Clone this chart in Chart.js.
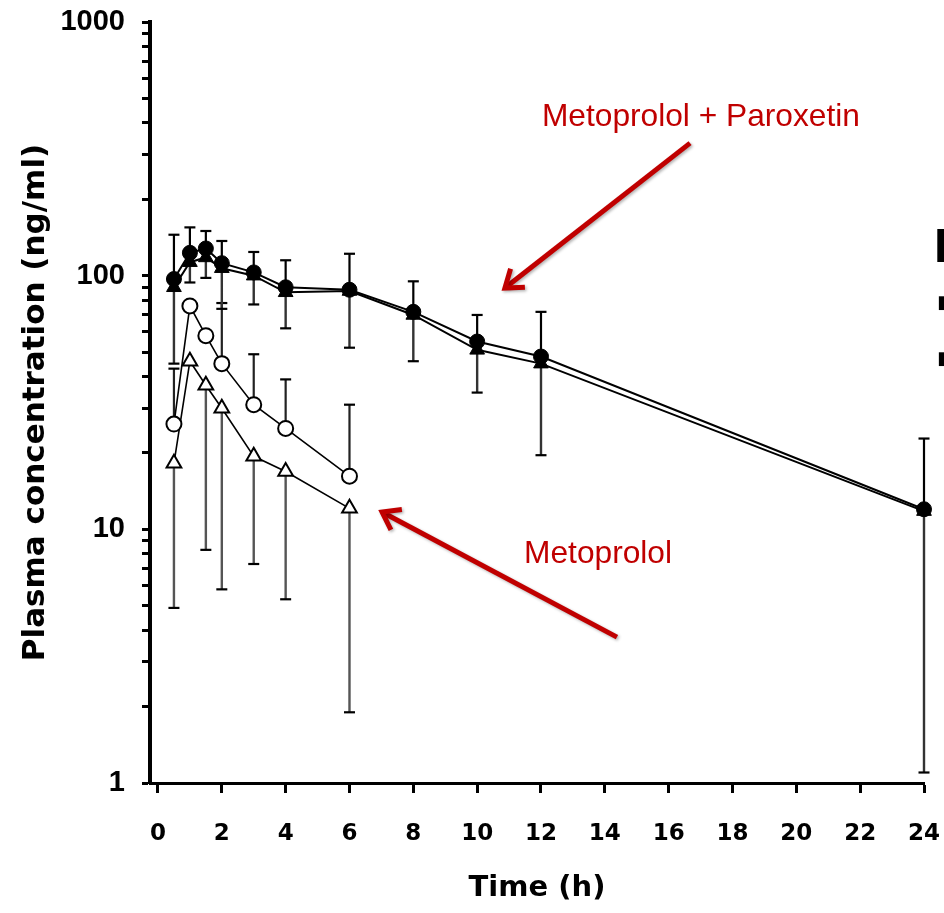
<!DOCTYPE html>
<html><head><meta charset="utf-8">
<script src="https://cdn.jsdelivr.net/npm/chart.js@4.4.1/dist/chart.umd.min.js"></script>
<style>html,body{margin:0;padding:0;background:#fff;}canvas{display:block}</style>
</head><body>
<canvas id="c" width="944" height="913"></canvas>
<script>
// ---- data (ng/ml) ----
const timesFull = [0.5, 1, 1.5, 2, 3, 4, 6, 8, 10, 12, 24];
const timesShort = [0.5, 1, 1.5, 2, 3, 4, 6];
const comboCircle = [97, 123, 128, 112, 103, 90, 88, 72, 55, 48, 12];
const comboTriangle = [90, 113, 118, 107, 100, 86, 87, 70, 51, 45, 11.8];
const aloneCircle = [26, 76, 58, 45, 31, 25, 16.2];
const aloneTriangle = [18.2, 46, 37, 30, 19.4, 16.9, 12.1];
const comboCircleUpper = [145, 155, 150, 137, 124, 115, 122, 95, 70, 72, 22.8];
const comboTriangleLower = [45, 94, 98, 74, 77, 62, 52, 46, 34.6, 19.6, 1.1];
const aloneCircleUpper = [43, null, null, 78, 49, 39, 31];
const aloneTriangleLower = [4.9, null, 8.3, 5.8, 7.3, 5.3, 1.9];
const xTickValues = [0, 2, 4, 6, 8, 10, 12, 14, 16, 18, 20, 22, 24];
const yTickLabels = [1, 10, 100, 1000];
const xTitle = 'Time (h)';
const yTitle = 'Plasma concentration (ng/ml)';
const annoTexts = ['Metoprolol + Paroxetin', 'Metoprolol'];
const annoTextAnchors = [[12.03, 389], [11.47, 7.37]];
const annoArrows = [[[16.67, 333], [10.87, 89.4]], [[14.38, 3.76], [7.02, 11.7]]];

// minor log ticks 1..9 per decade
const yTickValues = [];
for (let e = 0; e < 3; e++) for (let m = 1; m < 10; m++) yTickValues.push(m * Math.pow(10, e));
yTickValues.push(1000);

function series(xs, ys) { return xs.map((x, i) => ({x: x, y: ys[i]})); }
function errSeries(xs, ys, es) {
  const d = [], r = [];
  xs.forEach((x, i) => {
    if (es[i] == null) return;
    d.push({x: x, y: ys[i]}, {x: x, y: es[i]}, {x: x, y: null});
    r.push(0, 5.5, 0);
  });
  return {d, r};
}
function errDataset(xs, ys, es, color, w) {
  const e = errSeries(xs, ys, es);
  return {
    data: e.d, borderColor: color, borderWidth: w, showLine: true, spanGaps: false,
    pointStyle: 'line', pointRadius: e.r, pointBorderColor: '#000', pointBorderWidth: 2.2,
    pointBackgroundColor: '#000', order: 10, clip: false, fill: false
  };
}

const annoPlugin = {
  id: 'anno',
  afterDatasetsDraw(chart) {
    const ctx = chart.ctx, x = chart.scales.x, y = chart.scales.y;
    const red = '#c00000';
    ctx.save();
    // arrows
    ctx.strokeStyle = red; ctx.lineWidth = 5; ctx.lineCap = 'butt'; ctx.lineJoin = 'miter';
    ctx.shadowColor = 'rgba(0,0,0,0.3)'; ctx.shadowBlur = 3; ctx.shadowOffsetX = 1.5; ctx.shadowOffsetY = 1.5;
    annoArrows.forEach(a => {
      const tx = x.getPixelForValue(a[0][0]), ty = y.getPixelForValue(a[0][1]);
      const hx = x.getPixelForValue(a[1][0]), hy = y.getPixelForValue(a[1][1]);
      const ang = Math.atan2(hy - ty, hx - tx);
      ctx.beginPath(); ctx.moveTo(tx, ty); ctx.lineTo(hx - 2 * Math.cos(ang), hy - 2 * Math.sin(ang)); ctx.stroke();
      const L = 20, sp = 0.62;
      ctx.beginPath();
      ctx.moveTo(hx - L * Math.cos(ang - sp), hy - L * Math.sin(ang - sp));
      ctx.lineTo(hx, hy);
      ctx.lineTo(hx - L * Math.cos(ang + sp), hy - L * Math.sin(ang + sp));
      ctx.stroke();
    });
    ctx.shadowColor = 'transparent'; ctx.shadowBlur = 0; ctx.shadowOffsetX = 0; ctx.shadowOffsetY = 0;
    // texts
    ctx.fillStyle = red; ctx.textAlign = 'left'; ctx.textBaseline = 'alphabetic';
    ctx.font = '31.7px "Liberation Sans", Arial, sans-serif';
    annoTexts.forEach((t, i) => {
      ctx.fillText(t, x.getPixelForValue(annoTextAnchors[i][0]), y.getPixelForValue(annoTextAnchors[i][1]));
    });
    // cropped slide text at right edge
    ctx.fillStyle = '#000';
    ctx.font = 'bold 49px "Liberation Sans", Arial, sans-serif';
    ctx.fillText('I', chart.width - 10, 262);
    ctx.font = '18px "DejaVu Sans", sans-serif';
    ctx.textBaseline = 'middle';
    ctx.fillText('\u25A0', chart.width - 7, 303);
    ctx.fillText('\u25A0', chart.width - 7, 359);
    ctx.restore();
  }
};

new Chart(document.getElementById('c'), {
  type: 'line',
  data: {
    datasets: [
      {data: series(timesFull, comboCircle), borderColor: '#000', borderWidth: 2, pointStyle: 'circle',
       pointRadius: 7.5, pointBackgroundColor: '#000', pointBorderColor: '#000', pointBorderWidth: 1, order: 1, clip: false},
      {data: series(timesFull, comboTriangle), borderColor: '#000', borderWidth: 2, pointStyle: 'triangle',
       pointRadius: 8.5, pointBackgroundColor: '#000', pointBorderColor: '#000', pointBorderWidth: 1, order: 2, clip: false},
      {data: series(timesShort, aloneCircle), borderColor: '#000', borderWidth: 1.6, pointStyle: 'circle',
       pointRadius: 7.5, pointBackgroundColor: '#fff', pointBorderColor: '#000', pointBorderWidth: 2, order: 3, clip: false},
      {data: series(timesShort, aloneTriangle), borderColor: '#000', borderWidth: 1.6, pointStyle: 'triangle',
       pointRadius: 8.5, pointBackgroundColor: '#fff', pointBorderColor: '#000', pointBorderWidth: 2, order: 4, clip: false},
      errDataset(timesFull, comboCircle, comboCircleUpper, '#000', 2.2),
      errDataset(timesFull, comboTriangle, comboTriangleLower, '#333', 2.4),
      errDataset(timesShort, aloneCircle, aloneCircleUpper, '#222', 2.2),
      errDataset(timesShort, aloneTriangle, aloneTriangleLower, '#555', 2.4)
    ]
  },
  options: {
    responsive: false, devicePixelRatio: 1, animation: false, events: [],
    layout: {padding: {top: 22, right: 20, left: 0, bottom: 0}},
    plugins: {legend: {display: false}, tooltip: {enabled: false}},
    scales: {
      x: {
        type: 'linear', min: -0.25, max: 24,
        border: {display: true, color: '#000', width: 3},
        grid: {display: true, drawOnChartArea: false, drawTicks: true, tickLength: 10, tickWidth: 3, tickColor: '#000'},
        afterBuildTicks(s) { s.ticks = xTickValues.map(v => ({value: v})); },
        ticks: {autoSkip: false, maxRotation: 0, padding: 27, color: '#000',
                font: {family: '"DejaVu Sans", sans-serif', weight: 'bold', size: 23}},
        title: {display: true, text: xTitle, color: '#000',
                font: {family: '"DejaVu Sans", sans-serif', weight: 'bold', size: 29}, padding: {top: 7, bottom: 7}},
        afterFit(s) { s.height = 130; s.paddingLeft = 0; s.paddingRight = 0; }
      },
      y: {
        type: 'logarithmic', min: 1, max: 1000,
        border: {display: true, color: '#000', width: 4},
        grid: {display: true, drawOnChartArea: false, drawTicks: true, tickLength: 8, tickWidth: 3, tickColor: '#000'},
        afterBuildTicks(s) { s.ticks = yTickValues.map(v => ({value: v})); },
        ticks: {autoSkip: false, padding: 17, color: '#000',
                font: {family: '"Liberation Sans", Arial, sans-serif', weight: 'bold', size: 29},
                callback: (v) => yTickLabels.some(t => Math.abs(t - v) < 1e-6) ? String(v) : ''},
        title: {display: true, text: yTitle, color: '#000',
                font: {family: '"DejaVu Sans", sans-serif', weight: 'bold', size: 31}, padding: {top: 17, bottom: 17}},
        afterFit(s) { s.width = 150; s.paddingTop = 0; s.paddingBottom = 0; }
      }
    }
  },
  plugins: [annoPlugin]
});
</script>
</body></html>
